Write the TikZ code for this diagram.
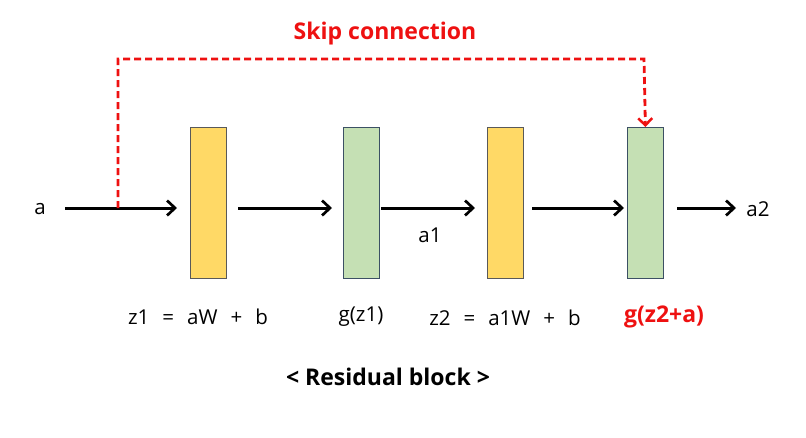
\documentclass[tikz,border=0pt]{standalone}
\usepackage{fontspec}
\setmainfont{Open Sans}
\usetikzlibrary{arrows.meta}
\definecolor{yel}{HTML}{FFD966}
\definecolor{grn}{HTML}{C5E0B4}
\definecolor{grnedge}{HTML}{3C5064}
\definecolor{skipred}{HTML}{EE1111}
\newcommand{\gap}{\hspace{13pt}}
\begin{document}
\begin{tikzpicture}[x=1pt,y=-1pt,
  layer/.style={draw=#1, line width=0.8pt, minimum width=36pt, minimum height=151pt, inner sep=0pt, anchor=north west},
  yelbox/.style={layer=black!65, fill=yel},
  grnbox/.style={layer=grnedge, fill=grn},
  flow/.style={line width=3pt, -{Straight Barb[length=8pt,width=15pt,line width=2.7pt]}},
  skip/.style={line width=2.8pt, skipred, dash pattern=on 7pt off 4pt, -{Straight Barb[length=7pt,width=14pt,line width=2.5pt]}},
  lbl/.style={font=\fontsize{20.5}{24}\selectfont, inner sep=0pt},
  blbl/.style={font=\fontsize{23}{27}\selectfont\bfseries, inner sep=0pt}
]
\useasboundingbox (0,0) rectangle (806,437);
\node[yelbox] (L1) at (190,127) {};
\node[grnbox] (G1) at (343,127) {};
\node[yelbox] (L2) at (487,127) {};
\node[grnbox] (G2) at (627,127) {};

\node[lbl] (a) at (40,209) {a};
\node[lbl] (a1) at (430,235) {a1};
\node[lbl] (a2) at (758,209) {a2};

\coordinate (s0) at (65,208);
\coordinate (e0) at (177,208);
\coordinate (s1) at (238,208);
\coordinate (e1) at (332,208);
\coordinate (s2) at (381,208);
\coordinate (e2) at (475,208);
\coordinate (s3) at (532,208);
\coordinate (e3) at (624,208);
\coordinate (s4) at (677,208);
\coordinate (e4) at (736,208);
\coordinate (sk) at (118,208);

\draw[flow] (s0) -- (e0);
\draw[flow] (s1) -- (e1);
\draw[flow] (s2) -- (e2);
\draw[flow] (s3) -- (e3);
\draw[flow] (s4) -- (e4);

\draw[skip] (sk) -- (118,59) -- (644,59) -- (G2.north);

\node[blbl, text=skipred] (title) at (385,34) {Skip connection};

\node[lbl] (t1) at (198,317) {z1\gap=\gap aW\gap+\gap b};
\node[lbl] (t2) at (361,317) {g(z1)};
\node[lbl] (t3) at (505,318) {z2\gap=\gap a1W\gap+\gap b};
\node[blbl, text=skipred] (t4) at (664,317) {g(z2+a)};
\node[blbl] (cap) at (388,377) {< Residual block >};
\end{tikzpicture}
\end{document}
